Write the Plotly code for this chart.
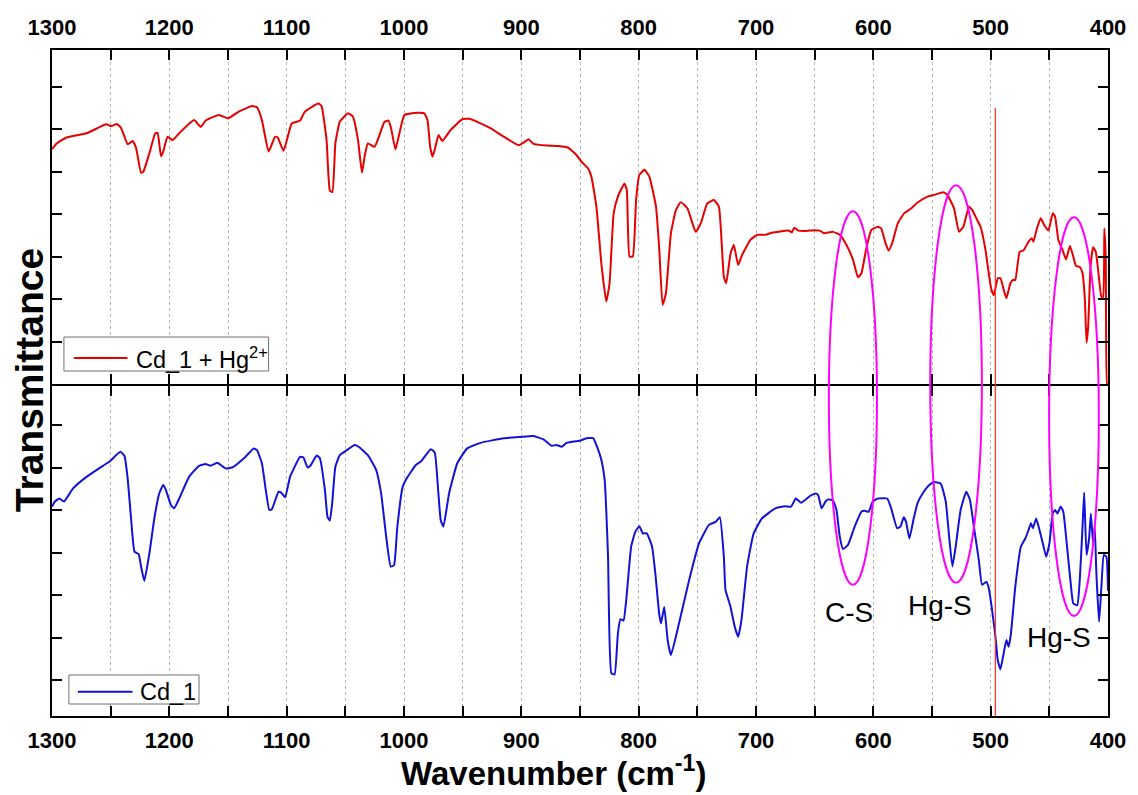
import plotly.graph_objects as go

# ---------------- data ----------------
red_wn = [1300, 1296, 1287.6, 1270.6, 1253.7, 1249.5, 1244.7, 1241, 1235.4, 1231.2, 1228.3, 1224.1, 1222.1,
          1217, 1212, 1210, 1207.1, 1205.2, 1201.5, 1197.3, 1191.6, 1178.9, 1173.3, 1169, 1157.8, 1149.9,
          1140.8, 1129.6, 1125.3, 1121.1, 1115.4, 1109.8, 1107.6, 1102.7, 1095.7, 1091.5, 1088.6, 1084.4,
          1073.1, 1070.3, 1066, 1063.2, 1061, 1058.5, 1054.7, 1047.7, 1043.5, 1039.2, 1035.8, 1033.6, 1030.8,
          1025.1, 1021, 1016.6, 1013.2, 1011, 1007.3, 1003.9, 999.7, 991.2, 982.7, 980, 977.7, 975.7, 973.8,
          970.6, 967.3, 960.2, 950.3, 944.7, 937.6, 926.4, 915, 902.3, 898.1, 893.9, 889.6, 878.4, 868.5,
          860, 853, 848.7, 843.1, 840.3, 836, 831.8, 827.6, 824.8, 821.3, 817.7, 812.1, 810.1, 807.8, 805,
          802.2, 799.4, 795.1, 790.9, 785.2, 782.4, 779.6, 776.8, 772.5, 768.3, 764.1, 758.4, 751.4, 747.1,
          741.5, 735.8, 731.6, 727.4, 725.4, 721.7, 718.9, 715.2, 711.8, 704.8, 699.1, 692.1, 686.4, 672.4,
          669.5, 667.3, 663.9, 658.2, 649.8, 645.5, 642.2, 634.3, 628.6, 622.9, 617.3, 613.1, 610.2, 606,
          601.8, 596.2, 593.3, 589.6, 586.9, 583.5, 579.2, 573.6, 567.9, 562.3, 553.8, 548.2, 540.3, 536.9,
          531.2, 527, 523.3, 518.5, 515.7, 511.5, 508.6, 504.4, 501.6, 499.6, 497.3, 493.9, 491.6, 488.8,
          486.6, 483.2, 480.9, 479, 475.3, 471.9, 467.7, 464.9, 463.5, 460.6, 457.3, 454.4, 450.8, 447.1,
          445.1, 442.3, 438.7, 435.8, 432.4, 429.6, 427.3, 423.9, 421.7, 419.7, 418.3, 416.9, 414.9, 412.7,
          410.4, 408.4, 405.6, 404.2, 403.1, 401.9, 400.8, 400]
red_t = [5.53, 5.66, 5.80, 5.90, 6.11, 6.07, 6.12, 6.02, 5.64, 5.72, 5.55, 4.97, 5.00,
         5.43, 5.90, 5.91, 5.36, 5.47, 5.82, 5.74, 5.90, 6.21, 6.05, 6.20, 6.33, 6.25,
         6.41, 6.54, 6.51, 6.21, 5.47, 5.82, 5.80, 5.49, 6.13, 6.17, 6.20, 6.41,
         6.60, 6.54, 5.74, 4.55, 4.52, 5.66, 6.17, 6.37, 6.29, 5.74, 4.97, 5.35, 5.66,
         5.58, 5.85, 6.17, 6.20, 6.02, 5.52, 5.90, 6.33, 6.38, 6.37, 6.21, 5.58, 5.35, 5.51,
         5.86, 5.72, 5.98, 6.23, 6.24, 6.17, 6.02, 5.82, 5.62, 5.68, 5.76, 5.65, 5.61, 5.60,
         5.56, 5.39, 5.23, 5.07, 4.88, 4.17, 2.84, 1.94, 2.37, 4.02, 4.41, 4.72, 4.56, 3.00, 3.00,
         4.33, 4.92, 5.04, 4.88, 4.17, 3.15, 1.86, 2.13, 3.55, 4.09, 4.28, 4.13, 3.58, 3.78,
         4.25, 4.33, 4.17, 2.52, 2.37, 3.07, 3.27, 2.80, 3.04, 3.39, 3.51, 3.51, 3.56, 3.61,
         3.57, 3.68, 3.61, 3.60, 3.62, 3.61, 3.55, 3.58, 3.51, 3.27, 2.92, 2.51, 2.60, 3.19,
         3.62, 3.70, 3.66, 3.31, 3.14, 3.35, 3.78, 4.02, 4.13, 4.27, 4.41, 4.45, 4.51, 4.45,
         4.13, 3.58, 3.70, 4.17, 4.09, 3.86, 3.70, 3.15, 2.60, 2.25, 2.09, 2.49, 2.49, 2.21,
         2.02, 2.37, 2.45, 2.45, 3.11, 3.15, 3.35, 3.43, 3.35, 3.66, 3.90, 3.74, 3.61, 4.02,
         3.94, 3.39, 3.15, 2.93, 3.25, 3.00, 2.78, 2.75, 2.60, 1.98, 0.97, 1.35, 2.76, 3.22,
         3.11, 2.68, 2.05, 2.05, 3.66, 2.92, 0.0, 0.0]

blue_wn = [1300, 1297.5, 1293.8, 1289.8, 1282, 1270.6, 1256.6, 1250.9, 1241.8, 1238.2, 1235.4, 1232.5, 1229.7,
           1226.1, 1224.1, 1221.3, 1217, 1212.8, 1208.6, 1205.2, 1202.9, 1198.7, 1195.9, 1191.6, 1183.2,
           1174.7, 1169, 1164.8, 1159.2, 1152.1, 1146.5, 1135.2, 1128.1, 1125.3, 1121.1, 1118.2, 1114.8,
           1112.6, 1106.9, 1104.7, 1101.3, 1097.1, 1088.6, 1085.8, 1082.2, 1079.3, 1074.5, 1071.7, 1067.4,
           1065.2, 1063.2, 1061.2, 1058.5, 1054.7, 1049.1, 1042, 1037.8, 1030.8, 1023.7, 1019.5, 1015.3,
           1011.3, 1008.5, 1005.7, 1001.1, 996.9, 989.9, 985.6, 977.2, 973.8, 970.9, 968.7, 966.4, 961.6,
           954.6, 946.1, 934.8, 915, 900.9, 889.6, 881.1, 874.1, 869.9, 865.6, 861.4, 853, 850.2, 844.5,
           838.8, 835.5, 831.8, 829, 826.1, 823.3, 820.5, 817.7, 815.5, 812.9, 810.6, 806.4, 802.8, 799.4,
           796.5, 793.1, 788.6, 785.8, 782.4, 781, 778.2, 775.3, 772.5, 766.9, 757, 748.5, 740.1, 734.4,
           730.8, 727.4, 726, 721.7, 718.1, 715.2, 712.4, 707.6, 702, 695, 683.6, 675.2, 670.1, 666.1,
           661.6, 654, 649.2, 647, 644.1, 640.7, 638.5, 634.3, 631.4, 628.6, 625.8, 621.6, 615.9, 610.2,
           607.4, 604, 600.4, 596.2, 588.2, 584.8, 579.7, 576.9, 574.1, 572.1, 569.3, 565.6, 562.3, 558,
           552.3, 548.1, 542.5, 538.3, 535.4, 532.6, 529.8, 525.6, 520.8, 517.7, 514.3, 510.1, 507.3,
           503.6, 501.6, 498.8, 495.9, 494, 491.7, 488.9, 486.6, 484.7, 482.7, 479, 474.2, 470.5, 467.7,
           465.7, 464, 461.2, 458.4, 455.6, 452.7, 449.9, 447.1, 445.1, 443.1, 440.3, 438.1, 435.2, 431.8,
           429.6, 426.2, 423.9, 421.7, 420.3, 418.3, 416.1, 414.6, 412.7, 411.3, 409.9, 407.6, 405.6,
           403.6, 401.4, 400]
blue_t = [5.08, 5.20, 5.27, 5.20, 5.51, 5.78, 6.04, 6.14, 6.37, 6.27, 5.71, 4.76, 4.02,
          3.96, 3.67, 3.33, 3.98, 4.80, 5.39, 5.59, 5.47, 5.12, 5.04, 5.27, 5.78,
          6.04, 6.08, 6.04, 6.11, 5.98, 6.00, 6.25, 6.45, 6.41, 6.10, 5.55, 5.00,
          5.02, 5.43, 5.41, 5.30, 5.78, 6.25, 6.24, 6.00, 6.06, 6.28, 6.22, 5.47,
          4.84, 4.75, 5.16, 6.02, 6.29, 6.40, 6.53, 6.47, 6.29, 5.94, 5.39, 4.40,
          3.67, 3.70, 4.60, 5.55, 5.78, 6.06, 6.14, 6.43, 6.35, 5.47, 4.76, 4.61, 5.39,
          6.10, 6.45, 6.58, 6.69, 6.72, 6.74, 6.66, 6.51, 6.53, 6.49, 6.58, 6.62, 6.63, 6.69,
          6.69, 6.49, 6.18, 5.71, 3.90, 1.16, 1.13, 2.10, 2.43, 2.40, 2.88, 4.14, 4.49, 4.62,
          4.45, 4.45, 4.14, 3.51, 2.53, 2.33, 2.72, 1.94, 1.59, 2.18, 3.35, 4.22, 4.65, 4.72,
          4.83, 3.90, 3.12, 2.72, 2.25, 2.02, 2.41, 3.67, 4.45, 4.80, 5.04, 5.09, 5.08, 5.27,
          5.17, 5.33, 5.39, 5.35, 5.04, 5.20, 5.25, 5.22, 5.00, 4.37, 4.08, 4.18, 4.61, 4.96,
          4.98, 4.96, 5.20, 5.27, 5.27, 5.04, 4.57, 4.61, 4.83, 4.72, 4.33, 4.80, 5.16, 5.39,
          5.59, 5.66, 5.62, 5.20, 4.37, 3.67, 4.14, 5.00, 5.43, 5.24, 4.61, 3.82, 3.24,
          3.31, 3.16, 2.65, 2.02, 1.47, 1.25, 1.63, 1.94, 1.78, 2.10, 3.20, 4.14, 4.33, 4.53,
          4.69, 4.57, 4.80, 4.53, 4.22, 3.90, 4.22, 4.92, 5.00, 4.92, 5.08, 4.96, 4.22, 3.28,
          2.80, 2.76, 3.43, 4.61, 5.41, 3.94, 4.33, 4.92, 4.22, 4.61, 3.51, 2.37, 3.20,
          3.94, 3.90, 3.10]

x_tick_vals = [1300, 1200, 1100, 1000, 900, 800, 700, 600, 500, 400]
x_tick_text = ["1300", "1200", "1100", "1000", "900", "800", "700", "600", "500", "400"]
y_tick_vals = [1, 2, 3, 4, 5, 6, 7]

red_name = "Cd_1 + Hg<sup>2+</sup>"
blue_name = "Cd_1"

# band annotations: label, label position (wavenumber, bottom-panel value)
band_labels = ["C-S", "Hg-S", "Hg-S"]
band_label_wn = [620.6, 543.5, 441.5]
band_label_t = [2.59, 2.76, 1.99]
# ellipses: center wavenumber, half width (cm-1), vertical extent (paper fraction)
ell_center = [617.4, 529.5, 429.0]
ell_half = [20.5, 22.0, 21.2]
ell_y0 = [0.197, 0.200, 0.150]
ell_y1 = [0.758, 0.797, 0.749]
marker_line_wn = 496

# ---------------- figure ----------------
FONT = "Liberation Sans, Arial, sans-serif"
RED = "#e60000"
BLUE = "#1212d8"
split = 0.4985
split_low = split - 2 / 666  # so the two 2px frame lines overlap into one divider

fig = go.Figure()
fig.add_trace(go.Scatter(x=red_wn, y=red_t, mode="lines", name=red_name,
                         line=dict(color=RED, width=2, shape="spline", smoothing=0.4),
                         xaxis="x", yaxis="y", showlegend=False))
fig.add_trace(go.Scatter(x=blue_wn, y=blue_t, mode="lines", name=blue_name,
                         line=dict(color=BLUE, width=2, shape="spline", smoothing=0.4),
                         xaxis="x2", yaxis="y2", showlegend=False))

xcommon = dict(
    range=[1300, 400], tickvals=x_tick_vals, ticktext=x_tick_text,
    ticks="inside", ticklen=10, tickwidth=2, tickcolor="black",
    showline=True, linecolor="black", linewidth=2, mirror="ticks",
    showgrid=True, gridcolor="#b4b4b4", gridwidth=1, griddash="3px,3px",
    minor=dict(dtick=50, tick0=1300, ticks="inside", ticklen=10, tickwidth=2, tickcolor="black",
               showgrid=True, gridcolor="#b4b4b4", gridwidth=1, griddash="3px,3px"),
    tickfont=dict(family=FONT, size=22, color="black", weight="bold"),
    ticklabelstandoff=4, zeroline=False,
)
ycommon = dict(
    tickvals=y_tick_vals, showticklabels=False,
    ticks="inside", ticklen=10, tickwidth=1.5, tickcolor="black",
    showline=True, linecolor="black", linewidth=2, mirror="ticks",
    showgrid=False, zeroline=False,
)

fig.update_layout(
    width=1138, height=795, autosize=False,
    margin=dict(l=52, r=23, t=50, b=79, pad=0),
    paper_bgcolor="white", plot_bgcolor="white",
    xaxis=dict(xcommon, anchor="y", side="top", domain=[0, 1]),
    xaxis2=dict(xcommon, anchor="y2", side="bottom", domain=[0, 1], matches="x"),
    yaxis=dict(ycommon, domain=[split, 1], range=[0, 7.86]),
    yaxis2=dict(ycommon, domain=[0, split_low], range=[0.153, 7.918]),
    showlegend=False,
)

# ellipses spanning both panels
for c, h, y0, y1 in zip(ell_center, ell_half, ell_y0, ell_y1):
    fig.add_shape(type="circle", xref="x", yref="paper", x0=c - h, x1=c + h, y0=y0, y1=y1,
                  line=dict(color="#ff00ff", width=2))

# thin red marker line
fig.add_shape(type="line", xref="x", yref="paper", x0=marker_line_wn, x1=marker_line_wn, y0=0, y1=0.913,
              line=dict(color="#ff2a2a", width=1.2))

# legend boxes (one per panel), drawn to match the reference's long line samples
legend_specs = [
    # name, colour, box (x0, x1, y0, y1) in paper, line (x0, x1, y), text x
    (red_name, RED, (0.0113, 0.2051, 0.518, 0.569), (0.0207, 0.0715, 0.5375), 0.078),
    (blue_name, BLUE, (0.016, 0.1392, 0.018, 0.0616), (0.0245, 0.0762, 0.0365), 0.0818),
]
for name, col, box, ln, tx in legend_specs:
    fig.add_shape(type="rect", xref="paper", yref="paper", x0=box[0], x1=box[1], y0=box[2], y1=box[3],
                  line=dict(color="#707070", width=1), fillcolor="white", layer="above")
    fig.add_shape(type="line", xref="paper", yref="paper", x0=ln[0], x1=ln[1], y0=ln[2], y1=ln[2],
                  line=dict(color=col, width=2), layer="above")
    fig.add_annotation(text=name, xref="paper", yref="paper", x=tx, y=ln[2], showarrow=False,
                       xanchor="left", yanchor="middle",
                       font=dict(family=FONT, size=23.5, color="black"))

for lab, xw, yt in zip(band_labels, band_label_wn, band_label_t):
    fig.add_annotation(text=lab, x=xw, y=yt, xref="x2", yref="y2", showarrow=False,
                       xanchor="center", yanchor="middle",
                       font=dict(family=FONT, size=28, color="black"))

# axis titles
fig.add_annotation(text="<b>Wavenumber (cm<sup>-1</sup>)</b>", xref="paper", yref="paper",
                   x=0.475, y=-0.083, showarrow=False, xanchor="center", yanchor="middle",
                   font=dict(family=FONT, size=33, color="black"))
fig.add_annotation(text="<b>Transmittance</b>", xref="paper", yref="paper", textangle=-90,
                   x=-0.0216, y=0.5045, showarrow=False, xanchor="center", yanchor="middle",
                   font=dict(family=FONT, size=39, color="black"))

fig.write_html("out.html")
